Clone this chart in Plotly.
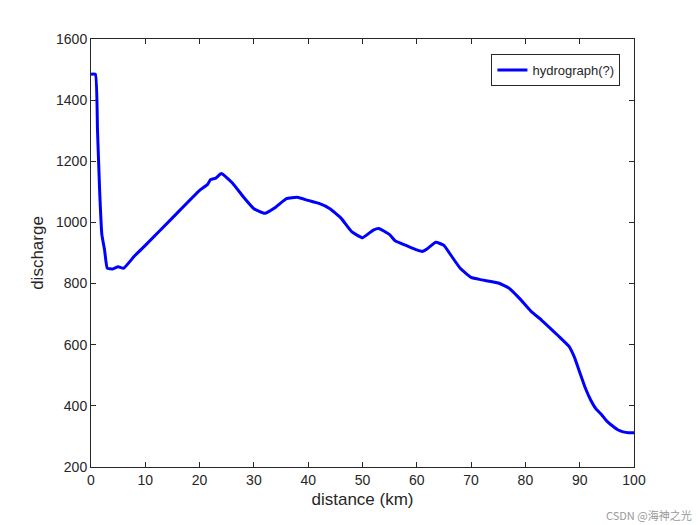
import plotly.graph_objects as go

distance = [0, 0.8, 1.2, 1.6, 2, 2.5, 3, 4, 5, 6, 8, 10, 15, 20, 21.5, 22, 23, 24, 26, 28, 30, 32, 34, 36, 38, 40, 42, 44, 46, 48, 50, 52, 53, 55, 56, 58, 60, 61, 62, 63.5, 65, 66, 68, 70, 72, 75, 77, 79, 81, 83, 86, 88, 89, 90, 91, 92, 93, 94, 95, 96, 97, 98, 99, 100]
discharge = [1485, 1485, 1300, 1100, 960, 910, 850, 848, 855, 850, 890, 925, 1015, 1105, 1125, 1140, 1145, 1160, 1130, 1085, 1045, 1030, 1050, 1078, 1082, 1072, 1062, 1045, 1015, 970, 950, 975, 980, 960, 940, 925, 910, 905, 915, 935, 925, 900, 850, 820, 812, 802, 785, 750, 710, 680, 630, 595, 560, 510, 460, 420, 390, 372, 350, 335, 322, 315, 312, 312]

fig = go.Figure(go.Scatter(x=distance, y=discharge, mode="lines", name="hydrograph(?)",
                           line=dict(color="#0000ff", width=3, shape="spline", smoothing=0.4)))
axis = dict(showline=True, linecolor="#262626", linewidth=1, mirror="ticks", ticks="inside",
            ticklen=5, tickcolor="#262626", showgrid=False, zeroline=False,
            tickfont=dict(size=14, color="#262626"))
fig.update_layout(
    width=700, height=525, paper_bgcolor="white", plot_bgcolor="white",
    margin=dict(l=83, r=74, t=31, b=66),
    font=dict(family="Liberation Sans, Arial", color="#262626"),
    xaxis=dict(axis, range=[0, 100], dtick=10, title=dict(text="distance (km)", font=dict(size=17), standoff=6)),
    yaxis=dict(axis, range=[200, 1600], dtick=200, title=dict(text="discharge", font=dict(size=17), standoff=8)),
    showlegend=True,
    legend=dict(x=0.975, y=0.965, xanchor="right", yanchor="top", bordercolor="#262626",
                borderwidth=1, bgcolor="white", font=dict(size=13)),
    annotations=[dict(text="CSDN @海神之光", x=1, y=0, xref="paper", yref="paper", xanchor="right",
                      yanchor="top", xshift=60, yshift=-38, showarrow=False,
                      font=dict(size=11, color="#999999", family="Noto Sans CJK SC"))],
)
fig.write_html("out.html")
